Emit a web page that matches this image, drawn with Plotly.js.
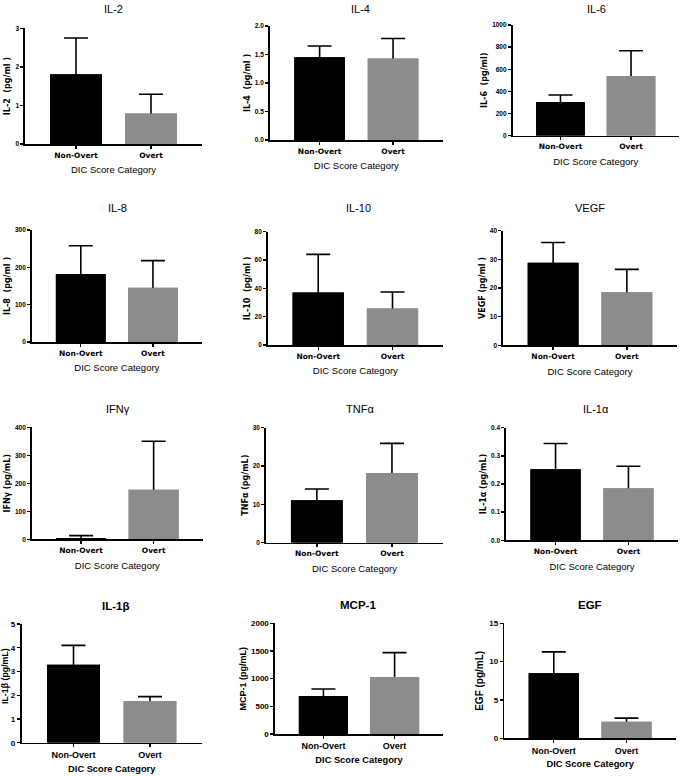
<!DOCTYPE html>
<html>
<head>
<meta charset="utf-8">
<script src="https://cdn.plot.ly/plotly-3.0.1.min.js"></script>
<style>html,body{margin:0;padding:0;background:#fff;}#chart{width:680px;height:776px;}</style>
</head>
<body>
<div id="chart"></div>
<script>
// ---- Data ----
const categories = ["Non-Overt", "Overt"];
const panelNames = ["IL-2", "IL-4", "IL-6", "IL-8", "IL-10", "VEGF", "IFNγ", "TNFα", "IL-1α", "IL-1β", "MCP-1", "EGF"];
const yTitles = ["IL-2  (pg/ml )", "IL-4  (pg/ml )", "IL-6  (pg/ml)", "IL-8  (pg/ml )", "IL-10  (pg/ml )", "VEGF (pg/ml )",
                 "IFNγ (pg/mL)", "TNFα (pg/mL)", "IL-1α (pg/mL)", "IL-1β (pg/mL)", "MCP-1 (pg/mL)", "EGF (pg/mL)"];
const xTitle = "DIC Score Category";

const il2Mean = [1.81, 0.79],  il2Err = [0.94, 0.50];
const il4Mean = [1.45, 1.43],  il4Err = [0.20, 0.35];
const il6Mean = [305, 539],    il6Err = [62, 229];
const il8Mean = [182, 145],    il8Err = [76, 73];
const il10Mean = [37, 25.7],   il10Err = [27, 11.7];
const vegfMean = [28.8, 18.5], vegfErr = [7.1, 8.0];
const ifnMean = [5, 177],      ifnErr = [8, 173];
const tnfMean = [11.1, 18.2],  tnfErr = [2.9, 7.7];
const il1aMean = [0.252, 0.185], il1aErr = [0.092, 0.078];
const il1bMean = [3.28, 1.76], il1bErr = [0.82, 0.18];
const mcpMean = [687, 1030],   mcpErr = [126, 440];
const egfMean = [8.5, 2.15],   egfErr = [2.77, 0.48];

const means = [il2Mean, il4Mean, il6Mean, il8Mean, il10Mean, vegfMean, ifnMean, tnfMean, il1aMean, il1bMean, mcpMean, egfMean];
const errs  = [il2Err, il4Err, il6Err, il8Err, il10Err, vegfErr, ifnErr, tnfErr, il1aErr, il1bErr, mcpErr, egfErr];
const yMax  = [3, 2, 1000, 300, 80, 40, 400, 30, 0.4, 5, 2000, 15];
const yStep = [1, 0.5, 200, 100, 20, 10, 100, 10, 0.1, 1, 500, 5];

// ---- Layout geometry (pixels) ----
const W = 680, H = 776;
const xPix = [[25,202],[269.7,443],[512.5,679],
              [31.7,202],[267.7,443],[503,677],
              [31.7,203],[265.8,443],[506,678],
              [21.5,202],[275,443],[504.3,676]];
const yPix = [[28.3,144],[26,140],[25,135.7],
              [230,342],[231.7,345],[230.7,345.3],
              [427.3,539.3],[427.7,542.7],[427.7,540.3],
              [624,742.7],[623.3,734],[623.3,738.3]];
const titlePix = [[113,9],[360,9],[596,9],
                  [117,208],[358,208],[590,208],
                  [118,409],[360,409],[596,409],
                  [115,606],[358,605],[590,605]];
const tickFmt = ["d", ".1f", "d", "d", "d", "d", "d", "d", ".1f", "d", "d", "d"];
const yTitleSize = [8, 8, 8, 8, 8, 8, 8, 8, 8, 8.8, 9, 10];
// panels whose y title sits at the page edge are placed as a rotated label (x, y centre in px)
const edgeTitle = {9: [5, 676]};

const barColors = ["#000000", "#8c8c8c"];
const wide = "DejaVu Sans, Verdana, sans-serif";
const sans = "Liberation Sans, Arial, sans-serif";

const traces = [];
const layout = {
  width: W, height: H,
  margin: {l: 0, r: 0, t: 0, b: 0},
  paper_bgcolor: "#fff", plot_bgcolor: "#fff",
  showlegend: false,
  barmode: "overlay",
  annotations: []
};

for (let i = 0; i < 12; i++) {
  const n = i + 1;
  const suf = i === 0 ? "" : String(n);
  const last = i >= 9;
  // error-bar stem starts inside the bar; its lower end is hidden by the bar drawn on top
  const hidden = means[i].map(m => Math.min(m, yMax[i] * 0.04));
  traces.push({
    type: "bar", x: categories, y: means[i],
    xaxis: "x" + suf, yaxis: "y" + suf,
    width: 0.69,
    marker: {color: barColors, line: {width: 0}},
    error_y: {type: "data", array: errs[i], arrayminus: hidden, symmetric: false,
              color: "#000", thickness: 1.6, width: 12},
    hoverinfo: "skip"
  });
  traces.push({
    type: "bar", x: categories, y: means[i],
    xaxis: "x" + suf, yaxis: "y" + suf,
    width: 0.69,
    marker: {color: barColors, line: {width: 0}},
    hoverinfo: "x+y"
  });
  layout["xaxis" + suf] = {
    domain: [xPix[i][0] / W, xPix[i][1] / W],
    anchor: "y" + suf,
    type: "category",
    range: [-0.68, 1.68],
    showline: true, linecolor: "#000", linewidth: 1.6,
    ticks: "outside", ticklen: 3, tickwidth: 1.4, tickcolor: "#000",
    showgrid: false, zeroline: false, fixedrange: true,
    tickfont: last ? {family: sans, size: 9, color: "#000", weight: "bold"}
                   : {family: wide, size: 7.5, color: "#000", weight: "bold"},
    title: {text: xTitle, standoff: last ? 6 : 8,
            font: {family: sans, size: last ? 9.3 : 9.5, color: "#000", weight: last ? "bold" : "normal"}}
  };
  const yFont = {family: last ? sans : wide, size: yTitleSize[i], color: "#000", weight: "bold"};
  const atEdge = edgeTitle[i];
  layout["yaxis" + suf] = {
    domain: [1 - yPix[i][1] / H, 1 - yPix[i][0] / H],
    anchor: "x" + suf,
    range: [0, yMax[i]],
    tick0: 0, dtick: yStep[i], tickformat: tickFmt[i],
    showline: true, linecolor: "#000", linewidth: 1.6,
    ticks: "outside", ticklen: 3, tickwidth: 1.4, tickcolor: "#000",
    showgrid: false, zeroline: false, fixedrange: true,
    tickfont: {family: sans, size: last ? 8 : 6.5, color: "#000", weight: "bold"},
    title: atEdge ? {text: ""} : {text: yTitles[i], standoff: 3, font: yFont}
  };
  if (atEdge) {
    layout.annotations.push({
      text: yTitles[i], textangle: -90,
      xref: "paper", yref: "paper",
      x: atEdge[0] / W, y: 1 - atEdge[1] / H,
      xanchor: "center", yanchor: "middle",
      showarrow: false, font: yFont
    });
  }
  layout.annotations.push({
    text: panelNames[i],
    xref: "paper", yref: "paper",
    x: titlePix[i][0] / W, y: 1 - titlePix[i][1] / H,
    xanchor: "center", yanchor: "middle",
    showarrow: false,
    font: {family: sans, size: last ? 11.5 : 11, color: "#000", weight: last ? "bold" : "normal"}
  });
}

Plotly.newPlot("chart", traces, layout, {displayModeBar: false, staticPlot: true});
</script>
</body>
</html>
